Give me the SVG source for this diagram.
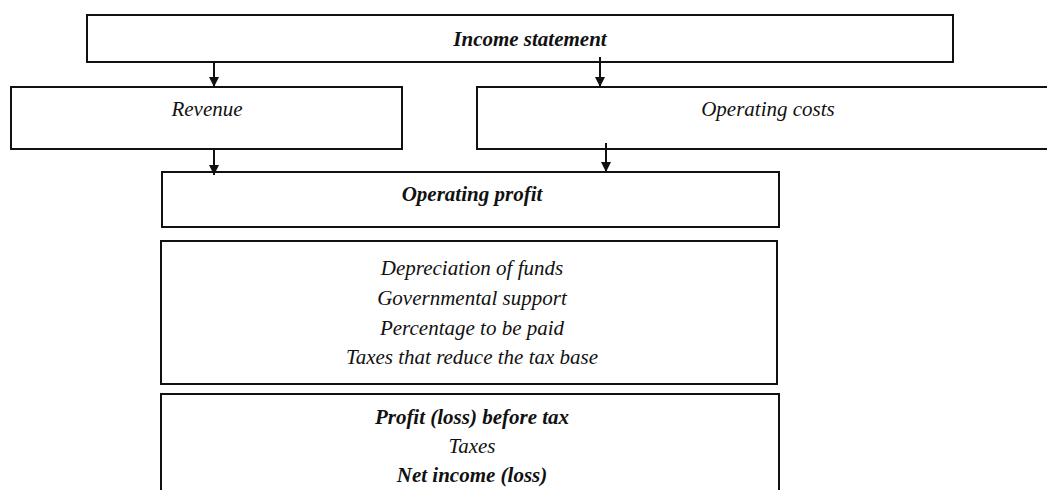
<svg xmlns="http://www.w3.org/2000/svg" width="1047" height="490" viewBox="0 0 1047 490">
<style>
.box{fill:#fff;stroke:#111;stroke-width:2}
.t{font-family:"Liberation Serif","Times New Roman",serif;font-size:21px;font-style:italic;fill:#111;text-anchor:middle}
.b{font-weight:bold}
.c{stroke:#111;stroke-width:2;fill:none}
</style>
<defs>
<marker id="ah" viewBox="0 0 10 10" refX="10" refY="5" markerWidth="10" markerHeight="10" markerUnits="userSpaceOnUse" orient="auto">
<path d="M0,0 L10,5 L0,10 z" fill="#111"/>
</marker>
</defs>
<rect width="1047" height="490" fill="#fff"/>
<g id="income-statement">
<rect class="box" x="87" y="15" width="866" height="47"/>
<text class="t b" x="530" y="46">Income statement</text>
</g>
<g id="revenue">
<rect class="box" x="11" y="87" width="391" height="62"/>
<text class="t" x="207" y="116">Revenue</text>
</g>
<g id="operating-costs">
<rect class="box" x="477" y="87" width="580" height="62"/>
<text class="t" x="768" y="116">Operating costs</text>
</g>
<g id="operating-profit">
<rect class="box" x="162" y="172" width="617" height="55"/>
<text class="t b" x="472" y="201">Operating profit</text>
</g>
<g id="items">
<rect class="box" x="161" y="241" width="616" height="143"/>
<text class="t" x="472" y="275">Depreciation of funds</text>
<text class="t" x="472" y="305">Governmental support</text>
<text class="t" x="472" y="335">Percentage to be paid</text>
<text class="t" x="472" y="364">Taxes that reduce the tax base</text>
</g>
<g id="result">
<rect class="box" x="161" y="394" width="618" height="110"/>
<text class="t b" x="472" y="424">Profit (loss) before tax</text>
<text class="t" x="472" y="453">Taxes</text>
<text class="t b" x="472" y="482">Net income (loss)</text>
</g>
<g id="connectors">
<line class="c" x1="214" y1="62" x2="214" y2="87" marker-end="url(#ah)"/>
<line class="c" x1="600" y1="57" x2="600" y2="87" marker-end="url(#ah)"/>
<line class="c" x1="214" y1="149" x2="214" y2="175" marker-end="url(#ah)"/>
<line class="c" x1="606" y1="143" x2="606" y2="172" marker-end="url(#ah)"/>
</g>
</svg>
